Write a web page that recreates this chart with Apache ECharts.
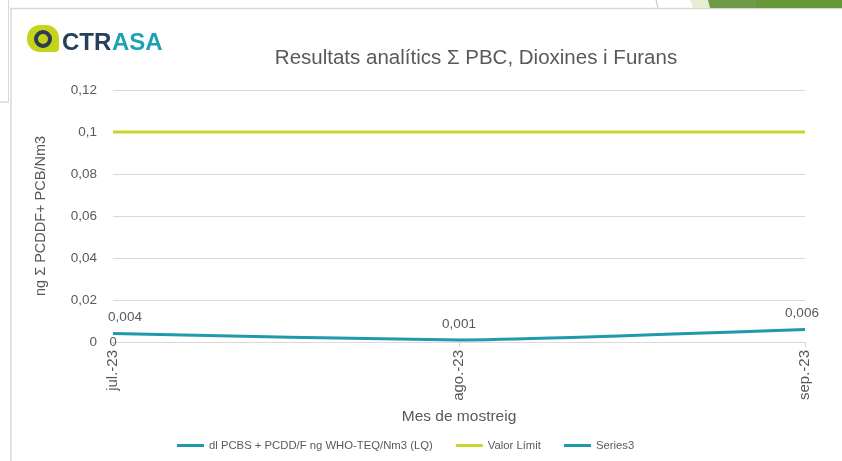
<!DOCTYPE html>
<html><head><meta charset="utf-8">
<script src="https://cdn.jsdelivr.net/npm/echarts@6/dist/echarts.min.js"></script>
<style>html,body{margin:0;padding:0;background:#fff}#c{width:842px;height:461px}</style>
</head><body><div id="c"></div>
<script>
const categories = ['jul.-23', 'ago.-23', 'sep.-23'];
const seriesMain = [0.004, 0.001, 0.006];
const seriesLimit = [0.1, 0.1, 0.1];
const series3 = [0, null, null];
const yTicks = { min: 0, max: 0.12, interval: 0.02 };
const names = ['dl PCBS + PCDD/F ng WHO-TEQ/Nm3 (LQ)', 'Valor Límit', 'Series3'];

const fmt = v => String(+(+v).toFixed(3)).replace('.', ',');
const FONT = 'Liberation Sans, Arial, sans-serif';
const txt = '#595959';
const chart = echarts.init(document.getElementById('c'), null, { renderer: 'canvas' });
chart.setOption({
  backgroundColor: '#fff',
  animation: false,
  textStyle: { fontFamily: FONT },
  title: {
    text: 'Resultats analítics Σ PBC, Dioxines i Furans',
    left: 471, top: 43, textAlign: 'center',
    textStyle: { fontFamily: FONT, fontSize: 20.5, fontWeight: 'normal', color: txt }
  },
  graphic: [
    { type: 'line', shape: { x1: 10, y1: 8.5, x2: 842, y2: 8.5 }, style: { stroke: '#d9d9d9', lineWidth: 1.5 } },
    { type: 'line', shape: { x1: 11, y1: 8, x2: 11, y2: 461 }, style: { stroke: '#d9d9d9', lineWidth: 1.5 } },
    { type: 'line', shape: { x1: 8.5, y1: 0, x2: 8.5, y2: 102 }, style: { stroke: '#d9d9d9', lineWidth: 1 } },
    { type: 'line', shape: { x1: 0, y1: 102, x2: 9, y2: 102 }, style: { stroke: '#d9d9d9', lineWidth: 1.5 } },
    { type: 'line', shape: { x1: 656, y1: 0, x2: 658, y2: 8 }, style: { stroke: '#bfbfbf', lineWidth: 1 } },
    { type: 'polygon', shape: { points: [[690, 0], [710, 0], [712, 8], [693, 8]] }, style: { fill: '#e6efd3' } },
    { type: 'polygon', shape: { points: [[708, 0], [757, 0], [756, 8], [710, 8]] }, style: { fill: '#6f9a48' } },
    { type: 'rect', shape: { x: 756, y: 0, width: 86, height: 8 }, style: { fill: '#679838' } },
    // logo
    { type: 'rect', shape: { x: 27, y: 25, width: 32, height: 27, r: [13, 13, 4, 13] }, style: { fill: '#c4d41a' } },
    { type: 'circle', shape: { cx: 43, cy: 39, r: 7 }, style: { fill: 'none', stroke: '#2b3d4f', lineWidth: 4 } },
    { type: 'text', left: 62, top: 31, style: { text: 'CTR', font: 'bold 24px ' + FONT, fill: '#24405a' } },
    { type: 'text', left: 112, top: 31, style: { text: 'ASA', font: 'bold 24px ' + FONT, fill: '#1fa1b1' } }
  ],
  grid: { left: 113, right: 37, top: 90, bottom: 119 },
  legend: {
    bottom: 5, left: 172, itemWidth: 27, itemHeight: 3, itemGap: 23,
    icon: 'rect',
    textStyle: { color: txt, fontSize: 11.3, fontFamily: FONT },
    data: names
  },
  xAxis: {
    type: 'category', data: categories, boundaryGap: false,
    name: 'Mes de mostreig', nameLocation: 'middle', nameGap: 58,
    nameTextStyle: { color: txt, fontSize: 15.5, fontFamily: FONT },
    axisLine: { lineStyle: { color: '#d9d9d9', width: 1 } },
    axisTick: { show: true, length: 5, lineStyle: { color: '#d9d9d9' } },
    axisLabel: { rotate: 90, color: txt, fontSize: 15, margin: 8, fontFamily: FONT }
  },
  yAxis: {
    type: 'value', min: yTicks.min, max: yTicks.max, interval: yTicks.interval,
    name: 'ng Σ PCDDF+ PCB/Nm3', nameLocation: 'middle', nameGap: 65, nameRotate: 90,
    nameTextStyle: { color: txt, fontSize: 14.5, fontFamily: FONT },
    axisLine: { show: false }, axisTick: { show: false },
    axisLabel: { color: txt, fontSize: 13.5, margin: 16, fontFamily: FONT, formatter: v => String(+v.toFixed(2)).replace('.', ',') },
    splitLine: { lineStyle: { color: '#d9d9d9', width: 1 } }
  },
  series: [
    {
      name: names[0], type: 'line', data: seriesMain, smooth: 0.15,
      symbol: 'circle', symbolSize: 0.1, showSymbol: true,
      lineStyle: { color: '#1e9aaa', width: 3 }, itemStyle: { color: '#1e9aaa' },
      label: {
        show: true, position: 'top', distance: 9, color: txt, fontSize: 13.5, fontFamily: FONT,
        formatter: p => fmt(p.value)
      },
      labelLayout: p => p.dataIndex === 0 ? { dx: 12 } : (p.dataIndex === 2 ? { dx: -3 } : {}),
      z: 3
    },
    {
      name: names[1], type: 'line', data: seriesLimit, symbol: 'none',
      lineStyle: { color: '#c8d42a', width: 3 }, itemStyle: { color: '#c8d42a' }, z: 2
    },
    {
      name: names[2], type: 'line', data: series3, symbol: 'circle', symbolSize: 0.1, showSymbol: true,
      lineStyle: { color: '#1e9aaa', width: 3 }, itemStyle: { color: '#1e9aaa' },
      label: { show: true, position: 'inside', color: txt, fontSize: 13, fontFamily: FONT, formatter: p => fmt(p.value) },
      z: 4
    }
  ]
});
</script></body></html>
